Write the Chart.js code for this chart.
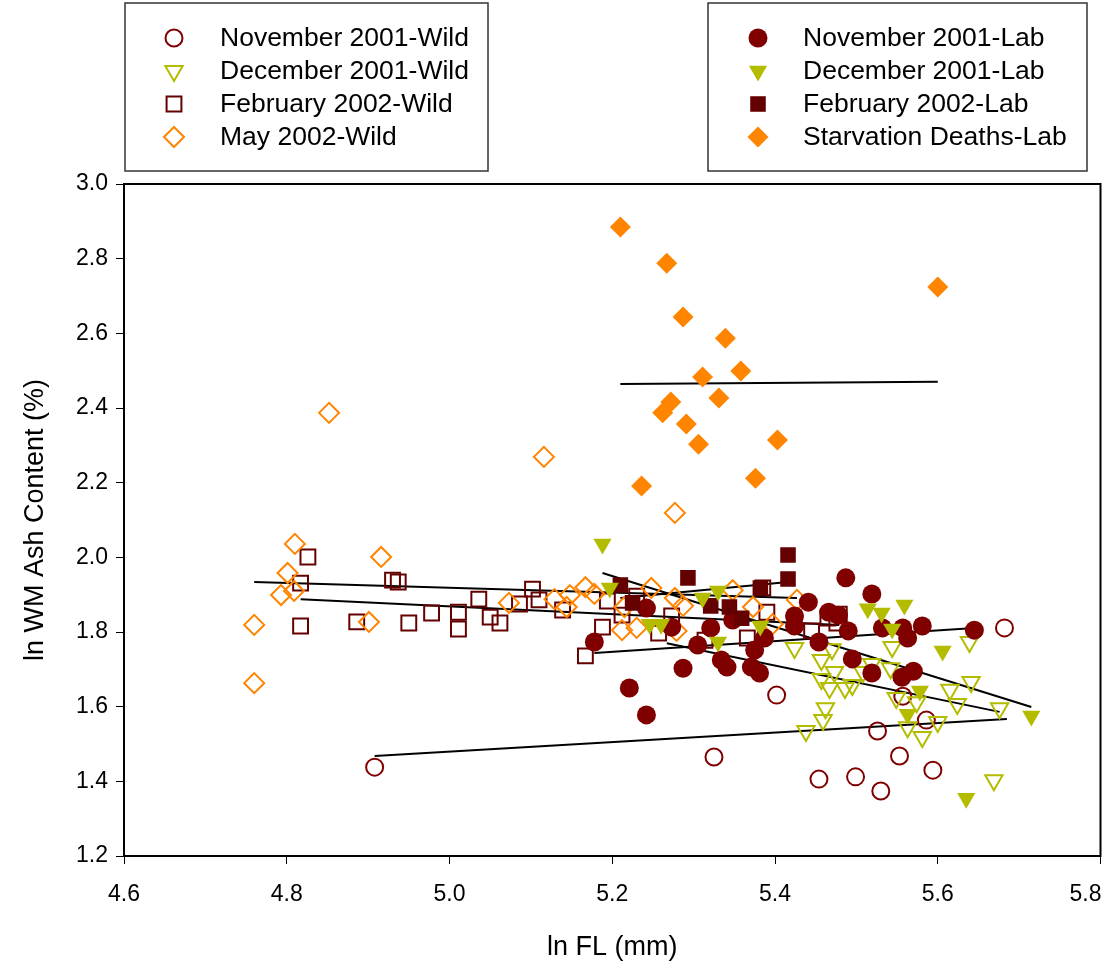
<!DOCTYPE html>
<html>
<head>
<meta charset="utf-8">
<script src="https://cdn.jsdelivr.net/npm/chart.js@4"></script>
<style>
  body { margin: 0; background: #fff; }
</style>
</head>
<body>
<canvas id="myChart" width="1113" height="974"></canvas>
<script>
// ---- data (ln FL, ln WM ash) ----
var novWildX = [4.908, 5.325, 5.402, 5.454, 5.499, 5.526, 5.530, 5.553, 5.557, 5.586, 5.594, 5.682];
var novWildY = [1.438, 1.465, 1.631, 1.406, 1.412, 1.535, 1.374, 1.468, 1.628, 1.564, 1.430, 1.811];

var decWildX = [5.424, 5.457, 5.470, 5.473, 5.457, 5.467, 5.486, 5.495, 5.508, 5.519, 5.544, 5.542, 5.549,
                5.574, 5.563, 5.581, 5.600, 5.615, 5.624, 5.639, 5.641, 5.676, 5.669, 5.462, 5.459, 5.438];
var decWildY = [1.757, 1.725, 1.754, 1.693, 1.674, 1.650, 1.650, 1.658, 1.693, 1.714, 1.760, 1.703, 1.623,
                1.612, 1.545, 1.519, 1.559, 1.645, 1.607, 1.773, 1.666, 1.596, 1.403, 1.596, 1.564, 1.535];

var febWildX = [4.817, 4.817, 4.826, 4.886, 4.930, 4.937, 4.950, 4.978, 5.011, 5.011, 5.036, 5.050, 5.062, 5.086,
                5.102, 5.110, 5.139, 5.167, 5.194, 5.188, 5.212, 5.230, 5.257, 5.273, 5.314, 5.366, 5.385, 5.390,
                5.445, 5.465, 5.479, 5.476];
var febWildY = [1.931, 1.816, 2.001, 1.827, 1.939, 1.934, 1.824, 1.851, 1.853, 1.808, 1.888, 1.840, 1.824, 1.875,
                1.915, 1.886, 1.859, 1.736, 1.883, 1.813, 1.845, 1.896, 1.797, 1.843, 1.778, 1.784, 1.918, 1.853,
                1.803, 1.837, 1.848, 1.824];

var mayWildX = [4.760, 4.760, 4.793, 4.801, 4.809, 4.810, 4.852, 4.901, 4.916, 5.073, 5.116, 5.129, 5.144, 5.148,
                5.167, 5.178, 5.212, 5.215, 5.230, 5.248, 5.277, 5.277, 5.287, 5.279, 5.348, 5.373, 5.397, 5.427];
var mayWildY = [1.819, 1.663, 1.899, 1.958, 1.910, 2.036, 2.387, 1.827, 2.001, 1.878, 2.269, 1.888, 1.867, 1.899,
                1.920, 1.902, 1.805, 1.867, 1.811, 1.918, 1.891, 2.119, 1.870, 1.803, 1.912, 1.867, 1.821, 1.886];

var novLabX = [5.178, 5.242, 5.273, 5.221, 5.242, 5.287, 5.305, 5.321, 5.348, 5.334, 5.341, 5.375, 5.371, 5.381,
               5.387, 5.424, 5.424, 5.441, 5.466, 5.478, 5.487, 5.519, 5.490, 5.454, 5.532, 5.557, 5.563, 5.581,
               5.495, 5.519, 5.556, 5.570, 5.645];
var novLabY = [1.773, 1.864, 1.813, 1.650, 1.578, 1.703, 1.765, 1.811, 1.832, 1.725, 1.706, 1.752, 1.706, 1.690,
               1.784, 1.843, 1.816, 1.880, 1.853, 1.845, 1.945, 1.902, 1.803, 1.773, 1.811, 1.811, 1.784, 1.816,
               1.728, 1.690, 1.679, 1.695, 1.805];

var decLabX = [5.188, 5.197, 5.246, 5.260, 5.311, 5.330, 5.330, 5.382, 5.514, 5.531, 5.559, 5.544, 5.606, 5.578,
               5.563, 5.635, 5.715];
var decLabY = [2.036, 1.918, 1.821, 1.821, 1.891, 1.910, 1.773, 1.816, 1.862, 1.851, 1.872, 1.808, 1.749, 1.642,
               1.580, 1.355, 1.575];

var febLabX = [5.210, 5.225, 5.293, 5.321, 5.344, 5.359, 5.382, 5.416, 5.416];
var febLabY = [1.926, 1.878, 1.945, 1.870, 1.867, 1.837, 1.918, 2.006, 1.942];

var starvX = [5.210, 5.267, 5.600, 5.287, 5.339, 5.358, 5.311, 5.272, 5.262, 5.331, 5.291, 5.306, 5.403, 5.236, 5.376];
var starvY = [2.885, 2.788, 2.724, 2.644, 2.587, 2.499, 2.483, 2.416, 2.387, 2.427, 2.357, 2.303, 2.314, 2.191, 2.212];

// regression lines: [x start, x end], [y start, y end]
var fitX = [[4.908, 5.685], [4.760, 5.427], [4.817, 5.479], [5.267, 5.676],
            [5.178, 5.645], [5.188, 5.715], [5.210, 5.416], [5.210, 5.600]];
var fitY = [[1.468, 1.567], [1.934, 1.891], [1.888, 1.819], [1.770, 1.586],
            [1.744, 1.811], [1.958, 1.599], [1.891, 1.934], [2.464, 2.470]];

var xTicks = [4.6, 4.8, 5.0, 5.2, 5.4, 5.6, 5.8];
var yTicks = [1.2, 1.4, 1.6, 1.8, 2.0, 2.2, 2.4, 2.6, 2.8, 3.0];

var wildNames = ["November 2001-Wild", "December 2001-Wild", "February 2002-Wild", "May 2002-Wild"];
var labNames = ["November 2001-Lab", "December 2001-Lab", "February 2002-Lab", "Starvation Deaths-Lab"];

var RED = "#800000", OLIVE = "#b4bc00", MAROON = "#640000", ORANGE = "#ff8400";
var FONT = "'Liberation Sans', Arial, sans-serif";

function pairs(xs, ys) {
  return xs.map(function (x, i) { return { x: x, y: ys[i] }; });
}

// marker styles, same order as the name lists
var wildStyles = [
  { style: "circle", color: RED, r: 8.5, fill: false, rot: 0 },
  { style: "triangle", color: OLIVE, r: 10, fill: false, rot: 180 },
  { style: "rect", color: MAROON, r: 10.5, fill: false, rot: 0 },
  { style: "rectRot", color: ORANGE, r: 10, fill: false, rot: 0 }
];
var labStyles = [
  { style: "circle", color: RED, r: 9.5, fill: true, rot: 0 },
  { style: "triangle", color: OLIVE, r: 10.5, fill: true, rot: 180 },
  { style: "rect", color: MAROON, r: 11, fill: true, rot: 0 },
  { style: "rectRot", color: ORANGE, r: 10.5, fill: true, rot: 0 }
];

function markerSet(label, xs, ys, s) {
  return {
    label: label,
    data: pairs(xs, ys),
    pointStyle: s.style,
    pointRotation: s.rot,
    pointRadius: s.r,
    pointHoverRadius: s.r,
    borderWidth: s.fill ? 0 : 2,
    borderColor: s.color,
    backgroundColor: s.fill ? s.color : "rgba(0,0,0,0)",
    showLine: false
  };
}

var datasets = [
  markerSet(labNames[3], starvX, starvY, labStyles[3]),
  markerSet(labNames[1], decLabX, decLabY, labStyles[1]),
  markerSet(labNames[2], febLabX, febLabY, labStyles[2]),
  markerSet(labNames[0], novLabX, novLabY, labStyles[0]),
  markerSet(wildNames[3], mayWildX, mayWildY, wildStyles[3]),
  markerSet(wildNames[2], febWildX, febWildY, wildStyles[2]),
  markerSet(wildNames[1], decWildX, decWildY, wildStyles[1]),
  markerSet(wildNames[0], novWildX, novWildY, wildStyles[0])
];

for (var k = 0; k < fitX.length; k++) {
  datasets.push({
    label: "fit" + k,
    data: pairs(fitX[k], fitY[k]),
    showLine: true,
    borderColor: "#000",
    borderWidth: 2,
    pointRadius: 0,
    fill: false
  });
}

// keep the last x label inside the picture (right aligned at the frame)
var lastLabelPlugin = {
  id: "lastLabel",
  beforeDraw: function (chart) {
    var items = chart.scales.x.getLabelItems();
    var last = items[items.length - 1];
    if (last && last.options.textAlign !== "right") {
      last.options.textAlign = "right";
      last.options.translation[0] = chart.chartArea.right + 1;
    }
  }
};

// frame round the plot area + the two boxed legends
var framePlugin = {
  id: "frame",
  afterDraw: function (chart) {
    var ctx = chart.ctx, a = chart.chartArea;
    ctx.save();
    ctx.strokeStyle = "#000";
    ctx.lineWidth = 2;
    ctx.strokeRect(a.left, a.top, a.right - a.left, a.bottom - a.top);

    function box(x0, y0, x1, y1, names, styles, mx, tx) {
      ctx.lineWidth = 1.5;
      ctx.strokeStyle = "#333";
      ctx.strokeRect(x0, y0, x1 - x0, y1 - y0);
      ctx.font = "26.5px " + FONT;
      ctx.textBaseline = "middle";
      ctx.textAlign = "left";
      for (var i = 0; i < names.length; i++) {
        var cy = 38 + i * 33;
        var s = styles[i];
        ctx.fillStyle = s.fill ? s.color : "rgba(0,0,0,0)";
        ctx.strokeStyle = s.color;
        ctx.lineWidth = s.fill ? 0 : 2;
        Chart.helpers.drawPoint(ctx, {
          pointStyle: s.style, radius: s.r, rotation: s.rot, borderWidth: s.fill ? 0 : 2
        }, mx, cy);
        ctx.fillStyle = "#000";
        ctx.fillText(names[i], tx, cy + 1);
      }
    }
    box(125, 3, 488, 171, wildNames, wildStyles, 174, 220);
    box(708, 3, 1087, 171, labNames, labStyles, 758, 803);
    ctx.restore();
  }
};

var ctx = document.getElementById("myChart");

var chart = new Chart(ctx, {
  type: "scatter",
  data: { datasets: datasets },
  options: {
    responsive: false,
    animation: false,
    layout: { padding: { top: 184, right: 12, left: 0, bottom: 0 } },
    plugins: { legend: { display: false }, tooltip: { enabled: false } },
    scales: {
      x: {
        type: "linear",
        min: 4.6,
        max: 5.8,
        afterBuildTicks: function (scale) {
          scale.ticks = xTicks.map(function (v) { return { value: v }; });
        },
        afterFit: function (scale) {
          scale.height = 118;
          scale.paddingLeft = 0;
          scale.paddingRight = 0;
        },
        ticks: {
          color: "#000",
          font: { family: FONT, size: 23 },
          padding: 17,
          maxRotation: 0,
          callback: function (v) { return v.toFixed(1); }
        },
        grid: { drawOnChartArea: false, color: "#000", tickLength: 8, lineWidth: 1 },
        border: { display: true, color: "#000", width: 2 },
        title: {
          display: true,
          text: "ln FL (mm)",
          color: "#000",
          font: { family: FONT, size: 27 },
          padding: { top: 0, bottom: 10 }
        }
      },
      y: {
        type: "linear",
        min: 1.2,
        max: 3.0,
        afterBuildTicks: function (scale) {
          scale.ticks = yTicks.map(function (v) { return { value: v }; });
        },
        afterFit: function (scale) {
          scale.width = 124;
          scale.paddingTop = 0;
          scale.paddingBottom = 0;
        },
        ticks: {
          color: "#000",
          font: { family: FONT, size: 23 },
          padding: 8,
          callback: function (v) { return v.toFixed(1); }
        },
        grid: { drawOnChartArea: false, color: "#000", tickLength: 8, lineWidth: 1 },
        border: { display: true, color: "#000", width: 2 },
        title: {
          display: true,
          text: "ln WM Ash Content (%)",
          color: "#000",
          font: { family: FONT, size: 27 },
          padding: { top: 19, bottom: 0 }
        }
      }
    }
  },
  plugins: [lastLabelPlugin, framePlugin]
});
</script>
</body>
</html>
